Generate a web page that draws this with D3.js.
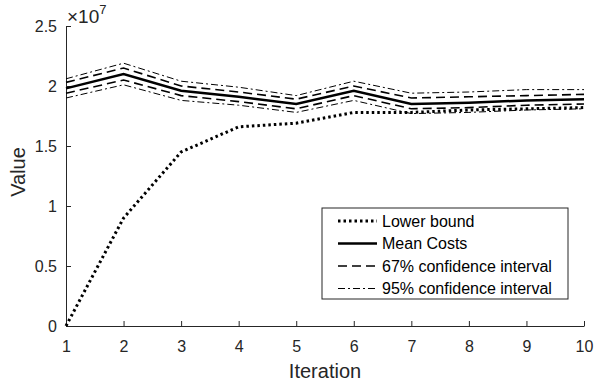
<!DOCTYPE html>
<html>
<head>
<meta charset="utf-8">
<script src="https://cdn.jsdelivr.net/npm/d3@7"></script>
<style>
  body { margin: 0; background: #fff; }
  svg { display: block; font-family: "Liberation Sans", Arial, sans-serif; }
</style>
</head>
<body>
<div id="chart"></div>
<script>
const iterations = [1, 2, 3, 4, 5, 6, 7, 8, 9, 10];
const lowerBound = [0, 0.9, 1.45, 1.66, 1.69, 1.78, 1.78, 1.80, 1.81, 1.82];
const meanCosts = [1.98, 2.10, 1.96, 1.91, 1.85, 1.96, 1.85, 1.86, 1.88, 1.89];
const ci67Upper = [2.03, 2.15, 2.00, 1.95, 1.89, 2.00, 1.90, 1.91, 1.92, 1.93];
const ci67Lower = [1.94, 2.05, 1.92, 1.87, 1.81, 1.92, 1.81, 1.82, 1.84, 1.85];
const ci95Upper = [2.06, 2.19, 2.04, 1.99, 1.92, 2.04, 1.94, 1.95, 1.97, 1.97];
const ci95Lower = [1.90, 2.01, 1.88, 1.84, 1.78, 1.88, 1.77, 1.78, 1.80, 1.81];
const yTicks = [0, 0.5, 1, 1.5, 2, 2.5];

const W = 594, H = 386;

const svg = d3.select('#chart').append('svg').attr('width', W).attr('height', H);

const x = d3.scaleLinear().domain([1, 10]).range([66, 584]);
const y = d3.scaleLinear().domain([0, 2.5]).range([326, 26]);

const axisColor = '#262626';

// axes, ticks pointing inward
const gx = svg.append('g')
  .attr('transform', `translate(0,${y(0)})`)
  .call(d3.axisBottom(x).tickValues(iterations).tickSizeInner(-5).tickSizeOuter(0).tickPadding(15));
const gy = svg.append('g')
  .attr('transform', `translate(${x(1)},0)`)
  .call(d3.axisLeft(y).tickValues(yTicks).tickFormat(d3.format('')).tickSizeInner(-5).tickSizeOuter(0).tickPadding(9));

[gx, gy].forEach((g) => {
  g.attr('font-family', null).attr('font-size', null);
  g.select('.domain').attr('stroke', axisColor).attr('stroke-width', 1);
  g.selectAll('.tick line').attr('stroke', axisColor);
  g.selectAll('.tick text').attr('fill', axisColor).style('font-size', '16px');
});

// exponent label
const expo = svg.append('text').attr('x', x(1) + 1).attr('y', 23).attr('fill', axisColor).style('font-size', '19px');
expo.append('tspan').text('×10');
expo.append('tspan').attr('dy', -9).style('font-size', '13px').text('7');

svg.append('text')
  .attr('x', (x(1) + x(10)) / 2).attr('y', 378)
  .attr('text-anchor', 'middle').attr('fill', axisColor)
  .style('font-size', '20px').text('Iteration');

svg.append('text')
  .attr('transform', `translate(25,172) rotate(-90)`)
  .attr('text-anchor', 'middle').attr('fill', axisColor)
  .style('font-size', '20px').text('Value');

const series = [
  { name: 'Lower bound', values: lowerBound, width: 3, dash: '2.5,3' },
  { name: 'Mean Costs', values: meanCosts, width: 2.5, dash: null },
  { name: '67% confidence interval', values: ci67Upper, width: 1.6, dash: '9,5' },
  { name: '67% confidence interval', values: ci67Lower, width: 1.6, dash: '9,5' },
  { name: '95% confidence interval', values: ci95Upper, width: 1, dash: '7,3,2,3' },
  { name: '95% confidence interval', values: ci95Lower, width: 1, dash: '7,3,2,3' }
];

const line = d3.line().x((d) => x(d[0])).y((d) => y(d[1]));

svg.append('g').selectAll('path')
  .data(series)
  .join('path')
  .attr('d', (s) => line(iterations.map((it, i) => [it, s.values[i]])))
  .attr('fill', 'none')
  .attr('stroke', '#000')
  .attr('stroke-width', (s) => s.width)
  .attr('stroke-dasharray', (s) => s.dash);

// legend
const legendItems = [series[0], series[1], series[2], series[4]];
const lg = svg.append('g').attr('transform', 'translate(322,208)');
lg.append('rect').attr('width', 246).attr('height', 91)
  .attr('fill', '#fff').attr('stroke', axisColor).attr('stroke-width', 1);
legendItems.forEach((s, i) => {
  const cy = 13 + i * 22.5;
  lg.append('line').attr('x1', 16).attr('x2', 55).attr('y1', cy).attr('y2', cy)
    .attr('stroke', '#000').attr('stroke-width', s.width).attr('stroke-dasharray', s.dash);
  lg.append('text').attr('x', 60).attr('y', cy).attr('dy', '0.35em')
    .attr('fill', '#000').style('font-size', '16px').text(s.name);
});
</script>
</body>
</html>
